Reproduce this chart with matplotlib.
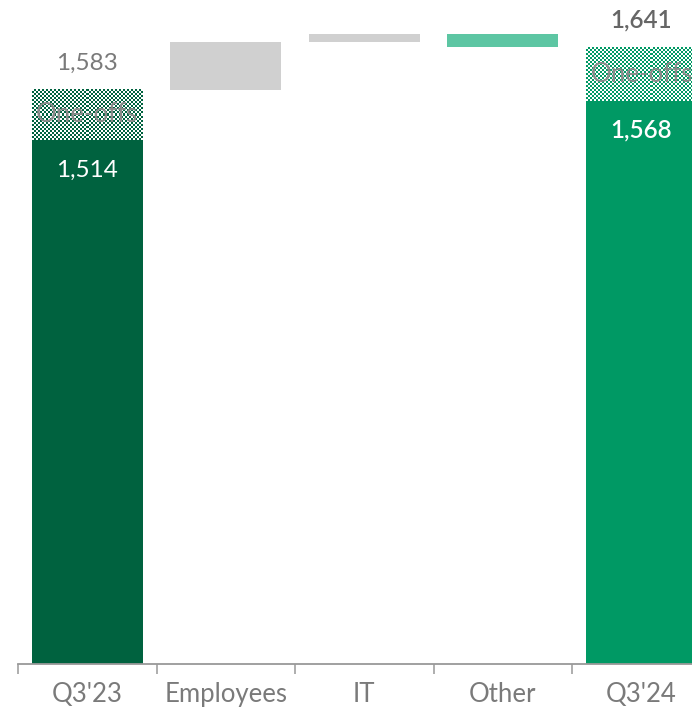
import numpy as np
import matplotlib
matplotlib.use("Agg")
import matplotlib.pyplot as plt

# Cost bridge: Q3'23 -> Q3'24
categories = ["Q3'23", "Employees", "IT", "Other", "Q3'24"]
start_underlying = 1514
start_total = 1583
changes = [65, 12, -19]          # Employees, IT, Other
end_underlying = 1568
end_total = 1641

DARK_GREEN = "#00623F"
GREEN = "#009964"
MINT = "#5DC6A3"
GREY_BAR = "#D0D0D0"
TEXT_GREY = "#7A7A7A"

plt.rcParams["font.family"] = ["Lato", "DejaVu Sans"]

W, H, DPI = 692, 709, 100
fig = plt.figure(figsize=(W / DPI, H / DPI), dpi=DPI)
ax_left = 18 / W
ax_bottom = (H - 663.5) / H
ax = fig.add_axes([ax_left, ax_bottom, 1 - ax_left, 1 - ax_bottom])

y_min = 797
y_max = y_min + 1.37 * 663.5
ax.set_xlim(-0.5, 4.365)
ax.set_ylim(y_min, y_max)

x = np.arange(len(categories))
bw = 0.8


def checker(ax, xc, lo, hi, color):
    """Fill a bar segment with a fine two-pixel checkerboard."""
    p0 = ax.transData.transform((xc - bw / 2, lo))
    p1 = ax.transData.transform((xc + bw / 2, hi))
    cols = max(1, int(round(abs(p1[0] - p0[0]) / 2)))
    rows = max(1, int(round(abs(p1[1] - p0[1]) / 2)))
    mask = (np.indices((rows, cols)).sum(axis=0) % 2).astype(bool)
    rgb = np.array(matplotlib.colors.to_rgb(color))
    img = np.ones((rows, cols, 3))
    img[mask] = rgb
    ax.imshow(img, extent=(xc - bw / 2, xc + bw / 2, lo, hi), aspect="auto",
              interpolation="nearest", origin="upper", zorder=2)


# opening bar
ax.bar(x[0], start_underlying - y_min, bottom=y_min, width=bw,
       color=DARK_GREEN, zorder=2)
checker(ax, x[0], start_underlying, start_total, DARK_GREEN)

# movements
level = start_total
move_colors = [GREY_BAR, GREY_BAR, MINT]
for i, (d, c) in enumerate(zip(changes, move_colors), start=1):
    ax.bar(x[i], d, bottom=level, width=bw, color=c, zorder=2)
    level += d

# closing bar
ax.bar(x[4], end_underlying - y_min, bottom=y_min, width=bw,
       color=GREEN, zorder=2)
checker(ax, x[4], end_underlying, end_total, GREEN)

ax.set_xlim(-0.5, 4.365)
ax.set_ylim(y_min, y_max)

fs = 17.5
# labels
ax.annotate(f"{start_total:,}", (x[0], start_total), xytext=(0, 26),
            textcoords="offset pixels", ha="center", va="center",
            fontsize=fs, color=TEXT_GREY)
ax.annotate(f"{start_underlying:,}", (x[0], start_underlying), xytext=(0, -30),
            textcoords="offset pixels", ha="center", va="center",
            fontsize=fs, color="white")
ax.annotate(f"{end_total:,}", (x[4], end_total), xytext=(0, 27),
            textcoords="offset pixels", ha="center", va="center",
            fontsize=fs, color="#666666", fontweight="semibold")
ax.annotate(f"{end_underlying:,}", (x[4], end_underlying), xytext=(0, -29),
            textcoords="offset pixels", ha="center", va="center",
            fontsize=fs, color="white", fontweight="semibold")
for xi, lo, hi in [(x[0], start_underlying, start_total),
                   (x[4], end_underlying, end_total)]:
    ax.text(xi, (lo + hi) / 2, "One-offs", ha="center", va="center",
            fontsize=fs + 1, color="#8A8A8A", zorder=5)

# axes styling
for s in ["top", "right", "left"]:
    ax.spines[s].set_visible(False)
ax.spines["bottom"].set_color("#999999")
ax.spines["bottom"].set_linewidth(1.3)
ax.set_yticks([])
ax.set_xticks([-0.5, 0.5, 1.5, 2.5, 3.5])
ax.set_xticklabels([])
ax.tick_params(axis="x", length=7, width=1.1, color="#999999", direction="out")
ax.set_xticks(x, minor=True)
ax.set_xticklabels(categories, minor=True, fontsize=18.5, color=TEXT_GREY)
ax.tick_params(axis="x", which="minor", length=0, pad=13)

fig.savefig("out.png", dpi=DPI)
